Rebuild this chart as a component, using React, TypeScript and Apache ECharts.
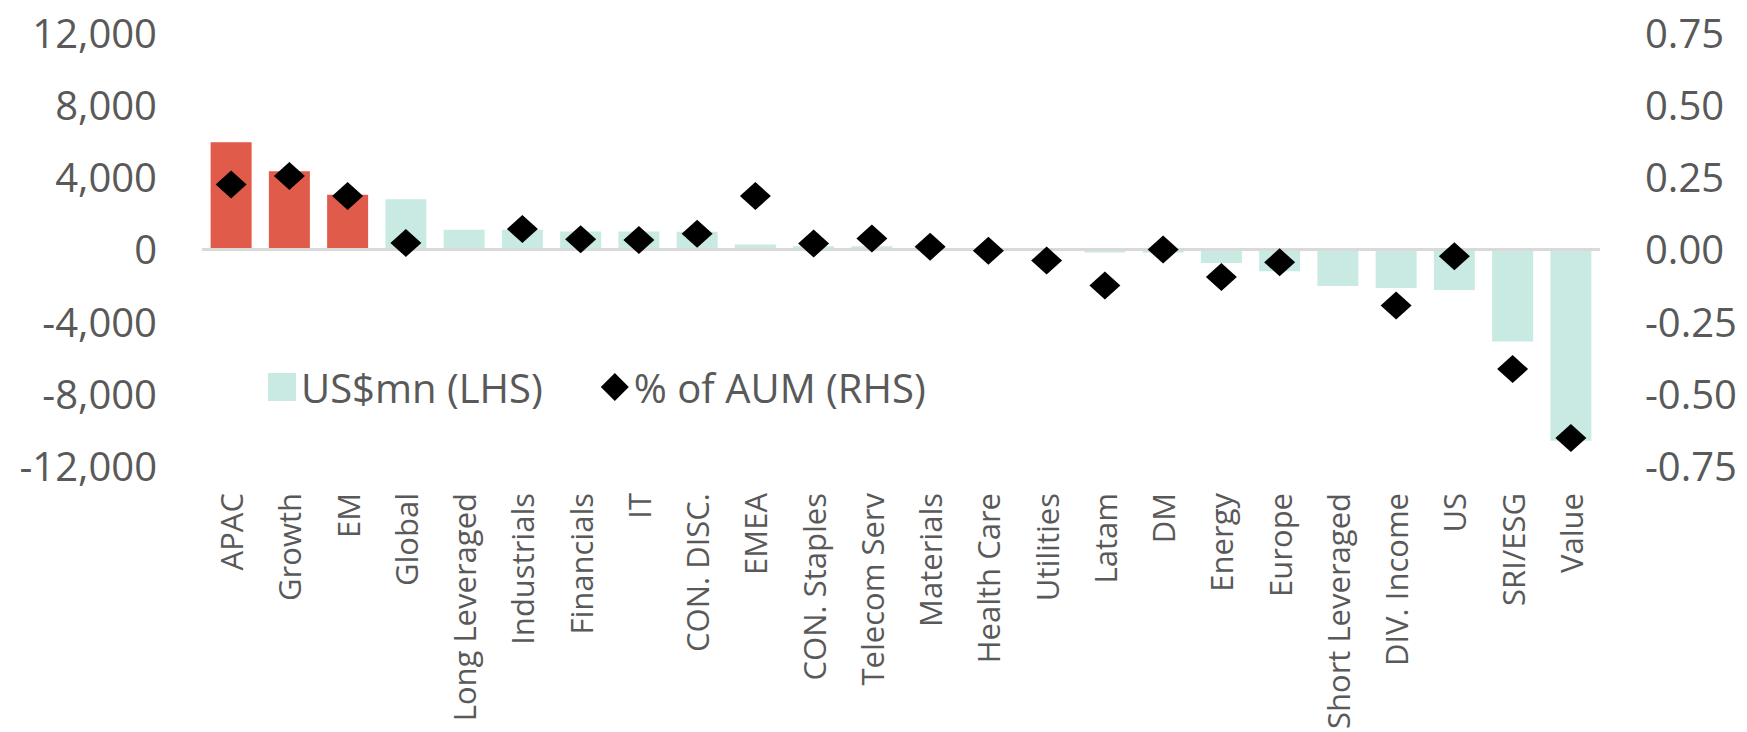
import React, { useEffect, useRef } from "react";
import * as echarts from "echarts";

const categories = [
  "APAC", "Growth", "EM", "Global", "Long Leveraged", "Industrials", "Financials", "IT",
  "CON. DISC.", "EMEA", "CON. Staples", "Telecom Serv", "Materials", "Health Care",
  "Utilities", "Latam", "DM", "Energy", "Europe", "Short Leveraged", "DIV. Income",
  "US", "SRI/ESG", "Value",
];

const flowsUsdMn = [
  5900, 4300, 3000, 2750, 1060, 1060, 970, 970,
  950, 250, 150, 150, 40, 20,
  -40, -200, -200, -770, -1230, -2050, -2160,
  -2270, -5110, -10600,
];

const pctOfAum: (number | null)[] = [
  0.223, 0.252, 0.183, 0.021, null, 0.069, 0.034, 0.031,
  0.053, 0.183, 0.019, 0.036, 0.008, -0.006,
  -0.04, -0.126, -0.002, -0.097, -0.046, null, -0.195,
  -0.025, -0.415, -0.653,
];

const highlightedCount = 3;
const leftTicks = { min: -12000, max: 12000, interval: 4000 };
const rightTicks = { min: -0.75, max: 0.75, interval: 0.25 };

const TEAL = "#C8EAE2";
const RED = "#E05B4A";
const GREY_TEXT = "#595959";
const FONT = "'Open Sans', sans-serif";

export default function App() {
  const ref = useRef<HTMLDivElement>(null);

  useEffect(() => {
    if (!ref.current) return;
    const chart = echarts.init(ref.current, undefined, { renderer: "svg" });
    chart.setOption({
      animation: false,
      backgroundColor: "#ffffff",
      textStyle: { fontFamily: FONT },
      grid: { left: 202, right: 147, top: 32, bottom: 266, containLabel: false },
      legend: {
        left: 263,
        top: 362,
        itemWidth: 28,
        itemHeight: 28,
        itemGap: 58,
        textStyle: { fontSize: 40, color: GREY_TEXT, fontFamily: FONT },
        data: [
          { name: "US$mn (LHS)", icon: "rect" },
          { name: "% of AUM (RHS)", icon: "diamond" },
        ],
      },
      xAxis: {
        type: "category",
        data: categories,
        axisLine: { show: false },
        axisTick: { show: false },
        axisLabel: {
          interval: 0,
          rotate: 90,
          margin: 27,
          fontSize: 31,
          color: GREY_TEXT,
          fontFamily: FONT,
        },
      },
      yAxis: [
        {
          type: "value",
          min: leftTicks.min,
          max: leftTicks.max,
          interval: leftTicks.interval,
          splitLine: { show: false },
          axisLine: { show: false },
          axisTick: { show: false },
          axisLabel: {
            margin: 45,
            fontSize: 40,
            color: GREY_TEXT,
            fontFamily: FONT,
            formatter: (v: number) => v.toLocaleString("en-US"),
          },
        },
        {
          type: "value",
          min: rightTicks.min,
          max: rightTicks.max,
          interval: rightTicks.interval,
          splitLine: { show: false },
          axisLine: { show: false },
          axisTick: { show: false },
          axisLabel: {
            margin: 45,
            fontSize: 40,
            color: GREY_TEXT,
            fontFamily: FONT,
            formatter: (v: number) => v.toFixed(2),
          },
        },
      ],
      series: [
        {
          name: "US$mn (LHS)",
          type: "bar",
          yAxisIndex: 0,
          barWidth: 41,
          itemStyle: { color: TEAL },
          data: flowsUsdMn.map((v, i) =>
            i < highlightedCount ? { value: v, itemStyle: { color: RED } } : v
          ),
          markLine: {
            silent: true,
            symbol: "none",
            label: { show: false },
            lineStyle: { color: "#D9D9D9", width: 3, type: "solid" },
            data: [{ yAxis: 0 }],
          },
          z: 2,
        },
        {
          name: "% of AUM (RHS)",
          type: "scatter",
          yAxisIndex: 1,
          symbol: "diamond",
          symbolSize: [31, 28],
          itemStyle: { color: "#000000", opacity: 1 },
          data: pctOfAum.map((v) => (v === null ? "-" : v)),
          z: 5,
        },
      ],
    });
    return () => chart.dispose();
  }, []);

  return (
    <div
      ref={ref}
      style={{ position: "fixed", left: 0, top: 0, width: 1747, height: 732, background: "#fff" }}
    />
  );
}
